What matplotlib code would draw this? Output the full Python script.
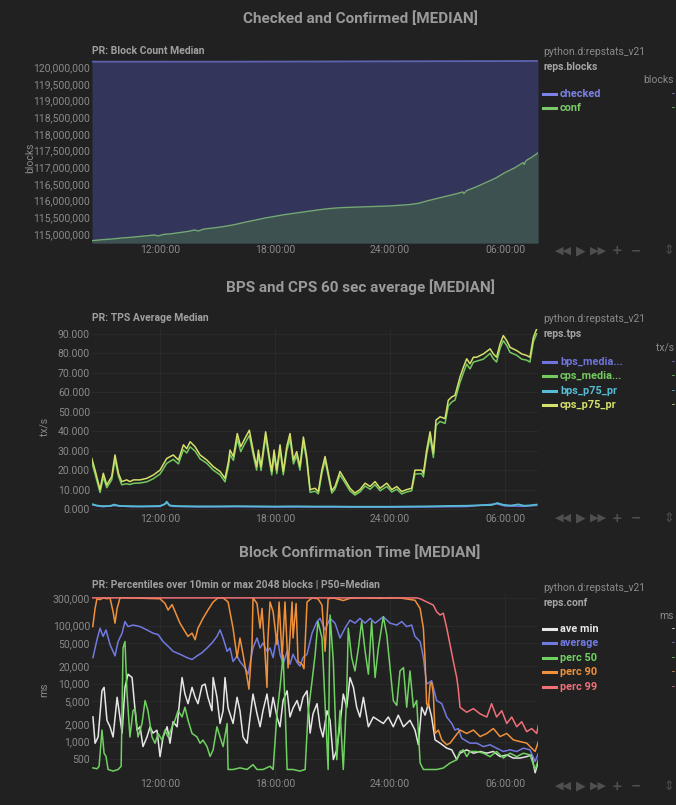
import matplotlib
matplotlib.use("Agg")
import matplotlib.pyplot as plt
from matplotlib.lines import Line2D
from matplotlib.ticker import FuncFormatter, NullLocator

W, H = 676, 805
BG = "#212121"
GRID = "#2b2b2b"
TICK = "#8a8a8a"
TITLE = "#9a9a9a"

plt.rcParams["font.family"] = ["Roboto", "DejaVu Sans"]

# ---------------- data ----------------
x_ticks = [12, 18, 24, 30]
x_labels = ["12:00:00", "18:00:00", "24:00:00", "06:00:00"]
x_min, x_max = 8.45, 31.72

# chart 1 : block counts (millions)
checked_hours = [8.45, 16.0, 24.0, 31.72]
checked_blocks = [120.16, 120.16, 120.17, 120.18]
conf_hours = [8.45, 9.0, 9.5, 10.0, 10.5, 11.0, 11.4, 11.7, 11.9, 12.2, 12.5, 13.0, 13.5, 13.8,
              14.0, 14.3, 14.8, 15.3, 15.8, 16.5, 17.0, 17.5, 18.0, 18.5, 19.0, 19.5, 20.0,
              20.5, 21.0, 21.5, 22.0, 22.5, 23.0, 23.5, 24.0, 24.5, 25.0, 25.5, 26.0, 26.5,
              27.0, 27.5, 27.8, 27.85, 28.0, 28.5, 29.0, 29.5, 30.0, 30.5, 30.95, 31.0, 31.1,
              31.4, 31.72]
conf_blocks = [114.80, 114.83, 114.85, 114.88, 114.90, 114.93, 114.95, 114.97, 114.94, 114.99,
               115.00, 115.04, 115.08, 115.12, 115.09, 115.15, 115.18, 115.22, 115.27, 115.36,
               115.42, 115.48, 115.53, 115.58, 115.62, 115.66, 115.70, 115.74, 115.77, 115.79,
               115.80, 115.81, 115.82, 115.83, 115.84, 115.86, 115.88, 115.92, 116.00, 116.07,
               116.14, 116.21, 116.26, 116.21, 116.30, 116.41, 116.54, 116.67, 116.84, 116.98,
               117.14, 117.08, 117.20, 117.30, 117.43]

# chart 2 : tx/s
tps_hours = [8.44, 8.61, 8.87, 9.04, 9.22, 9.48, 9.65, 9.83, 10.0, 10.26, 10.43, 10.61, 10.96,
             11.31, 11.65, 12.0, 12.35, 12.69, 12.96, 13.22, 13.39, 13.57, 13.83, 14.09, 14.44,
             14.78, 15.13, 15.39, 15.57, 15.65, 15.83, 16.03, 16.21, 16.43, 16.66, 16.87, 17.04,
             17.13, 17.27, 17.51, 17.70, 17.83, 17.95, 18.09, 18.26, 18.43, 18.61, 18.78, 18.96,
             19.13, 19.30, 19.48, 19.65, 19.83, 20.09, 20.26, 20.44, 20.61, 20.78, 20.96, 21.13,
             21.39, 21.65, 21.91, 22.17, 22.43, 22.70, 22.96, 23.22, 23.48, 23.83, 24.09, 24.35,
             24.61, 24.87, 25.13, 25.30, 25.65, 25.74, 25.91, 26.09, 26.26, 26.40, 26.61, 26.87,
             27.04, 27.22, 27.39, 27.65, 27.83, 28.0, 28.17, 28.35, 28.52, 28.87, 29.22, 29.39,
             29.56, 29.74, 29.91, 30.09, 30.26, 30.61, 30.87, 31.13, 31.30, 31.48, 31.65]
cps_p75 = [26, 20, 10, 18.4, 12.4, 16.7, 27.8, 18.4, 14.1, 15, 14.1, 15, 15, 15.8, 17.5, 20, 26,
           27.8, 25.2, 33, 31, 34.6, 32, 27.8, 25.2, 21.8, 19.3, 15.8, 24.4, 30.3, 27, 38.8, 32,
           36.3, 40.5, 29.5, 21.8, 30.3, 21.8, 39.7, 27, 19.3, 30.3, 20, 33, 19.3, 32, 38.8, 25.2,
           29.5, 21.8, 37, 27, 10, 10.7, 9, 20, 27, 18.4, 9.5, 11.6, 19.3, 15, 10.7, 8.2, 10,
           13.3, 11.6, 14.1, 10.7, 13.3, 10, 11.6, 9, 10, 10.7, 20, 20, 18.4, 30.3, 39.7, 28.6,
           45.7, 47.4, 46.5, 55.9, 57.6, 58.4, 67.8, 72.9, 77.2, 74.6, 78, 78, 79.7, 82.3, 79.7,
           78, 84.8, 89.1, 86.5, 83.1, 81.4, 79.7, 78.9, 78, 88.2, 92.5]
cps_median = [24, 18, 8.5, 16.5, 11, 15, 25.5, 16.8, 12.5, 13, 12.6, 13.2, 13.4, 14, 15.6, 18,
              23.5, 25.5, 23.2, 30.5, 28.8, 32, 29.8, 25.8, 23.5, 20, 17.6, 14, 22, 28, 25, 36,
              29.5, 33.8, 37.8, 27.4, 20, 28, 19.8, 37, 25, 17.5, 28, 18.2, 30.5, 17.6, 29.8, 36,
              23.2, 27.4, 20, 34.5, 25, 8.6, 9.2, 7.8, 18, 25, 16.8, 8.2, 10.2, 17.5, 13.5, 9.3,
              7.2, 8.8, 11.8, 10.2, 12.5, 9.4, 11.6, 8.8, 10.2, 7.8, 8.8, 9.4, 18, 18.2, 16.5, 28,
              37, 26.5, 43, 45, 44, 53, 55, 56, 65, 70, 74.5, 72, 75.5, 76, 77, 80, 77.2, 75.5,
              82.5, 86.5, 84, 80.5, 79, 77, 76.5, 75.5, 86, 90]
bps_p75_hours = [8.44, 8.7, 9.0, 9.4, 9.6, 9.9, 10.5, 11.0, 11.5, 12.0, 12.25, 12.35, 12.5, 13.0,
                 14.0, 15.0, 16.0, 17.0, 18.0, 19.0, 20.0, 21.0, 22.0, 23.0, 24.0, 25.0, 26.0,
                 27.0, 28.0, 28.8, 29.3, 29.6, 29.9, 30.3, 30.7, 31.0, 31.3, 31.65]
bps_p75 = [2.6, 1.8, 1.5, 1.6, 2.3, 1.6, 1.5, 1.4, 1.5, 1.6, 2.5, 3.8, 1.8, 1.5, 1.4, 1.4, 1.5,
           1.4, 1.3, 1.4, 1.3, 1.3, 1.2, 1.2, 1.2, 1.3, 1.4, 1.6, 1.7, 2.0, 2.1, 3.1, 2.2, 1.8,
           2.4, 1.7, 1.9, 2.3]
bps_median_hours = [8.44, 9.0, 9.6, 10.5, 12.0, 12.35, 12.6, 14.0, 16.0, 18.0, 20.0, 22.0, 24.0,
                    26.0, 28.0, 29.56, 30.0, 31.0, 31.65]
bps_median = [2.2, 1.2, 1.8, 1.2, 1.3, 3.2, 1.4, 1.1, 1.2, 1.1, 1.1, 1.0, 1.0, 1.1, 1.3, 2.7,
              1.6, 1.4, 1.9]

# chart 3 : confirmation time (ms)
ave_min_hours = [8.50, 8.61, 8.77, 8.97, 9.08, 9.23, 9.39, 9.55, 9.76, 9.86, 10.02, 10.17, 10.33,
                 10.54, 10.70, 10.80, 10.96, 11.11, 11.32, 11.48, 11.63, 11.84, 12.0, 12.16,
                 12.37, 12.52, 12.68, 12.89, 13.04, 13.15, 13.30, 13.46, 13.67, 13.83, 13.98,
                 14.19, 14.35, 14.50, 14.71, 14.77, 14.97, 15.13, 15.29, 15.39, 15.55, 15.81,
                 16.02, 16.17, 16.33, 16.54, 16.70, 16.85, 17.06, 17.22, 17.37, 17.58, 17.74,
                 17.90, 18.10, 18.26, 18.42, 18.63, 18.78, 18.94, 19.15, 19.30, 19.46, 19.67,
                 19.83, 19.98, 20.19, 20.35, 20.50, 20.71, 20.87, 21.04, 21.22, 21.39, 21.56,
                 21.74, 21.91, 22.09, 22.26, 22.43, 22.61, 22.87, 23.13, 23.39, 23.65, 23.91,
                 24.17, 24.43, 24.70, 25.04, 25.30, 25.48, 25.65, 25.83, 26.0, 26.17, 26.35,
                 26.61, 26.96, 27.22, 27.48, 27.65, 28.0, 28.35, 28.70, 29.05, 29.39, 29.74,
                 30.09, 30.43, 30.78, 31.13, 31.39, 31.57, 31.72]
ave_min = [2660, 935, 1200, 7500, 8600, 2330, 1800, 1200, 5800, 3400, 1400, 8600, 14500, 12700,
           3400, 1570, 1800, 820, 1200, 1800, 1400, 1570, 550, 1200, 1800, 935, 2200, 1800, 5800,
           12700, 6600, 4500, 8600, 5800, 4500, 9200, 9800, 5800, 3400, 12700, 5800, 2050, 3400,
           12700, 3800, 2050, 5800, 3400, 1200, 935, 2660, 6600, 3000, 1800, 3400, 6600, 2660,
           5800, 2660, 1800, 5100, 7500, 2660, 3800, 5100, 3400, 5800, 7500, 1400, 3000, 4500,
           1800, 1200, 3400, 2330, 490, 720, 2000, 6600, 3900, 12700, 8600, 3900, 2650, 5800,
           1800, 2650, 2330, 2050, 2650, 1800, 2850, 1800, 2330, 1580, 880, 3900, 2850, 4500,
           2650, 1070, 940, 770, 720, 490, 630, 720, 630, 675, 630, 675, 550, 590, 520, 520, 550,
           590, 290, 430]

average_hours = [8.50, 8.71, 8.87, 9.03, 9.18, 9.39, 9.65, 9.81, 10.02, 10.17, 10.33, 10.59,
                 10.96, 11.32, 11.63, 11.90, 12.16, 12.42, 12.68, 13.04, 13.41, 13.67, 13.93,
                 14.19, 14.45, 14.71, 14.97, 15.13, 15.29, 15.50, 15.65, 15.81, 16.02, 16.17,
                 16.43, 16.59, 16.85, 17.06, 17.22, 17.37, 17.58, 17.74, 17.90, 18.10, 18.26,
                 18.42, 18.63, 18.78, 18.94, 19.15, 19.30, 19.46, 19.67, 19.93, 20.19, 20.35,
                 20.61, 20.87, 21.13, 21.39, 21.65, 21.91, 22.17, 22.43, 22.70, 22.96, 23.22,
                 23.65, 24.0, 24.35, 24.61, 24.87, 25.13, 25.30, 25.57, 25.74, 25.91, 26.17,
                 26.43, 26.70, 26.96, 27.22, 27.39, 27.56, 27.74, 28.17, 28.52, 28.87, 29.22,
                 29.56, 29.91, 30.26, 30.61, 30.96, 31.30, 31.57, 31.74]
average = [28000, 57000, 90000, 65000, 84000, 47000, 30000, 53000, 74000, 117000, 96000, 102000,
           96000, 84000, 74000, 70000, 53000, 44000, 36000, 32000, 28000, 26000, 30000, 34000,
           41000, 50000, 65000, 84000, 61000, 36000, 41000, 24000, 30000, 24000, 18600, 14500,
           41000, 61000, 41000, 50000, 36000, 41000, 28000, 69000, 32000, 21500, 36000, 21500,
           32000, 23000, 20000, 28000, 32000, 74000, 117000, 133000, 84000, 133000, 110000,
           61000, 90000, 124000, 110000, 133000, 110000, 133000, 110000, 142000, 110000, 102000,
           117000, 96000, 102000, 65000, 53000, 28000, 9800, 11200, 5100, 4500, 2650, 2050, 1580,
           1680, 1140, 940, 940, 820, 880, 770, 675, 720, 675, 770, 720, 455, 630]

perc50_hours = [8.50, 8.71, 8.82, 8.97, 9.08, 9.18, 9.29, 9.55, 9.81, 9.97, 10.07, 10.17, 10.28,
                10.43, 10.59, 10.70, 10.85, 11.06, 11.22, 11.37, 11.58, 11.74, 11.90, 12.10,
                12.26, 12.42, 12.63, 12.78, 12.94, 13.15, 13.30, 13.46, 13.67, 13.93, 14.09,
                14.24, 14.45, 14.61, 14.77, 14.97, 15.13, 15.29, 15.50, 15.55, 15.81, 16.17,
                16.54, 16.85, 17.06, 17.37, 17.74, 17.90, 18.10, 18.26, 18.42, 18.52, 18.63,
                18.94, 19.30, 19.57, 19.72, 19.93, 20.09, 20.24, 20.45, 20.61, 20.77, 20.87,
                21.04, 21.22, 21.39, 21.56, 21.74, 21.82, 22.0, 22.17, 22.35, 22.52, 22.70,
                22.87, 23.04, 23.22, 23.39, 23.65, 23.83, 24.0, 24.17, 24.35, 24.52, 24.70,
                24.87, 25.04, 25.22, 25.39, 25.57, 25.74, 26.09, 26.44, 26.78, 27.13, 27.48,
                27.65, 27.83, 28.0, 28.17, 28.52, 28.87, 29.22, 29.56, 29.91, 30.26, 30.61,
                30.96, 31.30, 31.57, 31.74]
perc50 = [352, 340, 375, 1580, 630, 555, 330, 310, 330, 375, 41000, 53000, 6600, 1200, 3400,
          3700, 1200, 2050, 5100, 3400, 1200, 935, 1380, 1060, 1580, 1200, 1800, 2330, 3400,
          2660, 3900, 2330, 1380, 1200, 935, 1060, 820, 555, 720, 1800, 1200, 820, 2050, 330,
          330, 352, 330, 400, 330, 330, 375, 330, 3000, 8600, 31000, 4500, 330, 330, 310, 330,
          3000, 11000, 31000, 117000, 61000, 4500, 330, 152000, 24400, 487, 3450, 330, 6600,
          90000, 27900, 16500, 41000, 117000, 36000, 14500, 117000, 12700, 41000, 142000, 69000,
          18800, 5100, 4200, 16500, 18800, 3900, 16500, 3900, 5100, 427, 330, 330, 330, 350, 427,
          487, 675, 720, 550, 675, 675, 630, 550, 675, 520, 630, 550, 630, 590, 330, 487]

perc90_hours = [8.49, 8.61, 8.71, 8.87, 9.03, 9.23, 9.39, 9.55, 9.65, 9.76, 9.91, 10.28, 12.0,
                12.26, 12.42, 12.63, 12.78, 13.04, 13.30, 13.46, 13.67, 13.83, 13.98, 14.24,
                14.50, 14.77, 15.03, 15.29, 15.55, 15.81, 16.02, 16.17, 16.33, 16.54, 16.64,
                16.80, 16.85, 17.06, 17.22, 17.32, 17.48, 17.58, 17.63, 17.74, 17.90, 18.10,
                18.21, 18.37, 18.52, 18.68, 18.89, 18.94, 19.10, 19.20, 19.41, 19.51, 19.67,
                19.93, 20.24, 20.45, 20.61, 20.77, 21.04, 21.39, 21.56, 21.91, 22.5, 23.5, 24.5,
                25.30, 25.57, 25.74, 25.83, 25.91, 26.0, 26.09, 26.17, 26.26, 26.35, 26.52, 26.70,
                26.96, 27.13, 27.39, 27.65, 28.0, 28.35, 28.70, 29.05, 29.39, 29.74, 30.09, 30.43,
                30.78, 31.13, 31.39, 31.57, 31.74]
perc90 = [96000, 197000, 290000, 280000, 300000, 290000, 300000, 173000, 110000, 197000, 300000,
          300000, 290000, 240000, 185000, 230000, 175000, 110000, 79000, 65000, 74000, 57000,
          90000, 133000, 185000, 255000, 300000, 300000, 255000, 90000, 28000, 61000, 32000,
          12700, 8000, 47000, 300000, 240000, 90000, 197000, 32000, 8600, 61000, 255000, 173000,
          47000, 255000, 28000, 255000, 18600, 255000, 61000, 240000, 24000, 21500, 18000,
          255000, 300000, 290000, 225000, 36000, 290000, 300000, 280000, 270000, 295000, 300000,
          295000, 300000, 273000, 197000, 90000, 24400, 4500, 3900, 9800, 10500, 6600, 1380,
          1580, 1070, 880, 940, 1220, 1580, 1380, 1580, 1220, 1380, 1680, 1220, 1380, 1070, 1000,
          940, 770, 675, 1000]

perc99_hours = [8.45, 12.0, 16.0, 20.0, 24.0, 25.39, 25.57, 25.91, 26.26, 26.43, 26.61, 26.78,
                26.96, 27.13, 27.30, 27.48, 27.56, 27.65, 28.0, 28.35, 28.70, 29.05, 29.30, 29.56,
                29.83, 30.09, 30.35, 30.61, 30.87, 31.13, 31.39, 31.65, 31.74]
perc99 = [300000, 300000, 300000, 300000, 300000, 300000, 290000, 256000, 225000, 173000, 152000,
          163000, 90000, 47000, 24400, 12700, 8100, 3900, 3200, 3700, 3000, 2650, 4500, 2650,
          3400, 2050, 2650, 1800, 2200, 1480, 1680, 1380, 1900]

blocks_ticks = [115e6 + 5e5 * i for i in range(11)]
tps_ticks = [0, 10, 20, 30, 40, 50, 60, 70, 80, 90]
conf_ticks = [500, 1000, 2000, 5000, 10000, 20000, 50000, 100000, 300000]

# ---------------- figure ----------------
fig = plt.figure(figsize=(W / 100, H / 100), dpi=100, facecolor=BG)


def ftext(x, y, s, **kw):
    kw.setdefault("va", "center")
    return fig.text(x / W, 1 - y / H, s, **kw)


def panel(top, bottom):
    ax = fig.add_axes([92 / W, 1 - bottom / H, (538 - 92) / W, (bottom - top) / H])
    ax.set_facecolor(BG)
    for s in ax.spines.values():
        s.set_visible(False)
    ax.set_xlim(x_min, x_max)
    ax.set_xticks(x_ticks)
    ax.set_xticklabels(x_labels)
    ax.tick_params(length=0, labelsize=7.5, labelcolor=TICK, pad=1.5)
    ax.grid(True, color=GRID, lw=0.7)
    ax.set_axisbelow(True)
    return ax


def legend(y0, name, unit, labels, colors, row_y):
    ftext(543, y0, "python.d:repstats_v21", color="#8a8a8a", fontsize=7.5)
    ftext(543, y0 + 14.5, name, color="#a5a5a5", fontsize=7.5, fontweight="bold")
    ftext(674, y0 + 28, unit, ha="right", color="#8a8a8a", fontsize=7.5)
    for i, (lab, col) in enumerate(zip(labels, colors)):
        y = row_y + 14.4 * i
        fig.add_artist(Line2D([543 / W, 556 / W], [1 - y / H] * 2, color=col, lw=2.2))
        ftext(560, y, lab, color=col, fontsize=7.8, fontweight="bold")
        ftext(672, y, "-", color=col, fontsize=7.5)


def controls(y):
    for x, s in [(563, "◀◀"), (581, "▶"), (598, "▶▶"), (617, "+"), (636, "−")]:
        ftext(x, y, s, ha="center", color="#4f4f4f", fontsize=8 if len(s) > 1 else 9,
              family=["DejaVu Sans"], fontweight="bold")
    ftext(669, y, "⇕", ha="center", color="#4f4f4f", fontsize=9, family=["DejaVu Sans"])


# section titles
ftext(360, 19, "Checked and Confirmed [MEDIAN]", ha="center", color=TITLE, fontsize=11, fontweight="bold")
ftext(360, 287, "BPS and CPS 60 sec average [MEDIAN]", ha="center", color=TITLE, fontsize=11, fontweight="bold")
ftext(360, 553, "Block Confirmation Time [MEDIAN]", ha="center", color=TITLE, fontsize=11, fontweight="bold")

# ---- chart 1 ----
ax1 = panel(60, 243)
ylo1, yhi1 = 114.73e6, 120.21e6
ax1.set_ylim(ylo1, yhi1)
checked_vals = [v * 1e6 for v in checked_blocks]
conf_vals = [v * 1e6 for v in conf_blocks]
ax1.fill_between(checked_hours, checked_vals, ylo1, color="#33365a", lw=0)
ax1.fill_between(conf_hours, conf_vals, ylo1, color="#3c5150", lw=0)
ax1.plot(checked_hours, checked_vals, color="#5d63b0", lw=1.3)
ax1.plot(conf_hours, conf_vals, color="#74a872", lw=1.0)
ax1.set_yticks(blocks_ticks)
ax1.yaxis.set_major_formatter(FuncFormatter(lambda v, p: f"{v:,.0f}"))
ax1.grid(True, color="#3a3c58", lw=0.5, alpha=0.6)
ftext(92, 51, "PR: Block Count Median", color="#a0a0a0", fontsize=7.5, fontweight="bold")
ftext(30, 158, "blocks", rotation=90, ha="center", color=TICK, fontsize=7.5)
legend(52, "reps.blocks", "blocks", ["checked", "conf"], ["#7d83e6", "#7cc96a"], 94)
controls(251)

# ---- chart 2 ----
ax2 = panel(329, 512)
ax2.set_ylim(-1.5, 92.5)
ax2.plot(bps_median_hours, bps_median, color="#6f74dc", lw=1.1)
ax2.plot(tps_hours, cps_median, color="#73c95e", lw=1.1)
ax2.plot(bps_p75_hours, bps_p75, color="#56bcd6", lw=1.3)
ax2.plot(tps_hours, cps_p75, color="#d6e06a", lw=1.1)
ax2.set_yticks(tps_ticks)
ax2.yaxis.set_major_formatter(FuncFormatter(lambda v, p: f"{v:.3f}"))
ftext(92, 318, "PR: TPS Average Median", color="#a0a0a0", fontsize=7.5, fontweight="bold")
ftext(44, 427, "tx/s", rotation=90, ha="center", color=TICK, fontsize=7.5)
legend(319, "reps.tps", "tx/s", ["bps_media...", "cps_media...", "bps_p75_pr", "cps_p75_pr"],
       ["#6f74dc", "#73c95e", "#56bcd6", "#d6e06a"], 362)
controls(518)

# ---- chart 3 ----
ax3 = panel(594, 777)
ax3.set_yscale("log")
ax3.set_ylim(245, 350000)
ax3.plot(ave_min_hours, ave_min, color="#e6e6e6", lw=1.1)
ax3.plot(average_hours, average, color="#717ae0", lw=1.1)
ax3.plot(perc50_hours, perc50, color="#6fd160", lw=1.1)
ax3.plot(perc90_hours, perc90, color="#f0913a", lw=1.1)
ax3.plot(perc99_hours, perc99, color="#f07078", lw=1.1)
ax3.set_yticks(conf_ticks)
ax3.yaxis.set_minor_locator(NullLocator())
ax3.yaxis.set_major_formatter(FuncFormatter(lambda v, p: f"{v:,.0f}"))
ftext(92, 585, "PR: Percentiles over 10min or max 2048 blocks | P50=Median", color="#a0a0a0",
      fontsize=7.5, fontweight="bold")
ftext(44, 690, "ms", rotation=90, ha="center", color=TICK, fontsize=7.5)
legend(588, "reps.conf", "ms", ["ave min", "average", "perc 50", "perc 90", "perc 99"],
       ["#e6e6e6", "#717ae0", "#6fd160", "#f0913a", "#f07078"], 629)
controls(786)

fig.savefig("out.png", dpi=100, facecolor=BG)
